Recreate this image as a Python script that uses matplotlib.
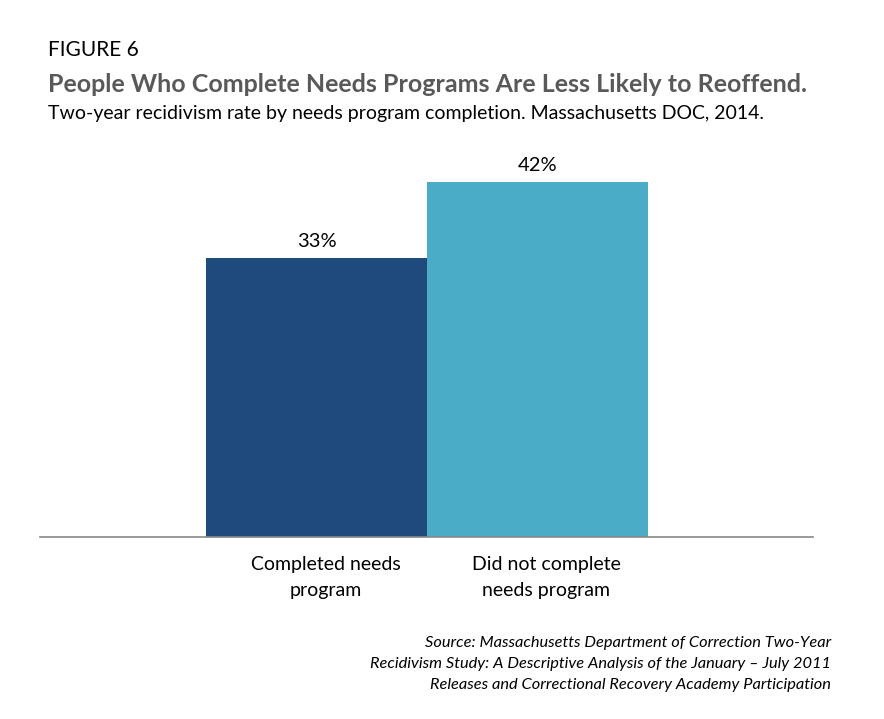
import matplotlib.pyplot as plt
from matplotlib.transforms import ScaledTranslation

categories = ['Completed needs\nprogram', 'Did not complete\nneeds program']
rates = [33, 42]
colors = ['#1F4A7C', '#4AACC6']

W, H = 884, 719
plt.rcParams['font.family'] = ['Lato', 'DejaVu Sans']

fig = plt.figure(figsize=(W / 100, H / 100), dpi=100)
# axes: left 40px, right 813px, baseline at 537px, top at 130px
ax = fig.add_axes([40 / W, (H - 537) / H, 773 / W, 407 / H])

x = range(len(rates))
bars = ax.bar(x, rates, width=1.0, color=colors)
for b, r in zip(bars, rates):
    ax.text(b.get_x() + b.get_width() / 2, r + 1.0, '{}%'.format(r),
            ha='center', va='bottom', fontsize=14.5, color='#000000')

ax.set_xlim(-1.251, 2.247)
ax.set_ylim(0, 48.2)
for s in ('top', 'right', 'left'):
    ax.spines[s].set_visible(False)
ax.spines['bottom'].set_color('#878787')
ax.spines['bottom'].set_linewidth(1.2)
ax.set_yticks([])
ax.set_xticks(list(x))
ax.set_xticklabels(categories, fontsize=14, linespacing=1.6)
ax.tick_params(axis='x', length=0, pad=14)
# labels sit a little right of the bar centres in the original
shift = ScaledTranslation(9 / 100, 0, fig.dpi_scale_trans)
for lbl in ax.get_xticklabels():
    lbl.set_transform(lbl.get_transform() + shift)

fig.text(48 / W, 1 - 50 / H, 'FIGURE 6', fontsize=15, va='center', ha='left')
fig.text(48 / W, 1 - 85 / H, 'People Who Complete Needs Programs Are Less Likely to Reoffend.',
         fontsize=18, fontweight='bold', color='#595959', va='center', ha='left')
fig.text(48 / W, 1 - 113 / H,
         'Two-year recidivism rate by needs program completion. Massachusetts DOC, 2014.',
         fontsize=14, va='center', ha='left')

source = ('Source: Massachusetts Department of Correction Two-Year\n'
          'Recidivism Study: A Descriptive Analysis of the January \u2013 July 2011\n'
          'Releases and Correctional Recovery Academy Participation')
fig.text(831 / W, 1 - 664 / H, source, fontsize=11.8, style='italic',
         ha='right', va='center', linespacing=1.65)

fig.savefig('out.png', dpi=100)
